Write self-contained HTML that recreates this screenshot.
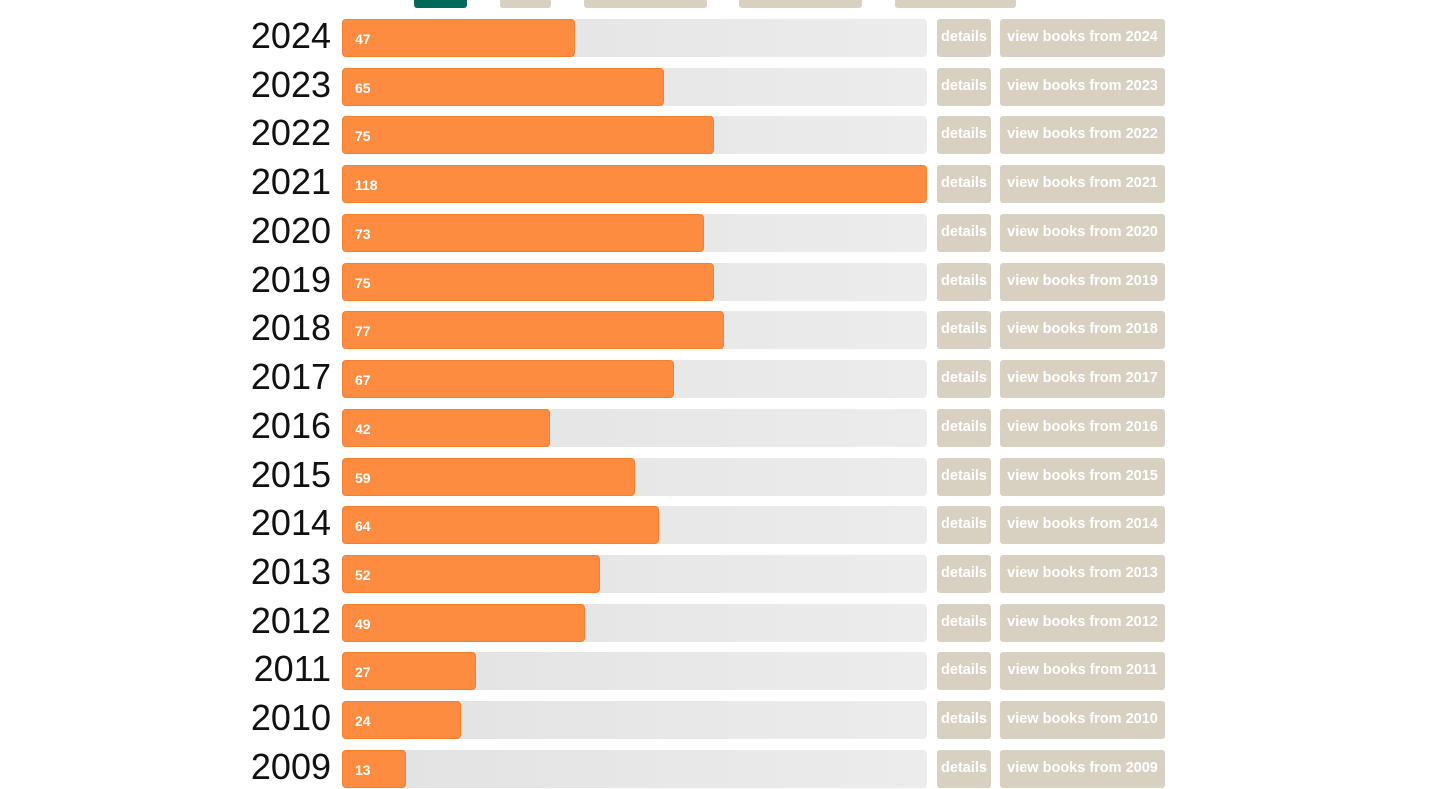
<!DOCTYPE html>
<html><head><meta charset="utf-8">
<style>
body{margin:0;width:1456px;height:789px;background:#fff;position:relative;overflow:hidden;font-family:"Liberation Sans",sans-serif}
.tab{position:absolute;top:-4px;height:12px;border-radius:0 0 3px 3px;background:#d8d1c2}
.year{position:absolute;left:200px;width:131px;text-align:right;font-size:36px;color:#111;line-height:38px}
.track{position:absolute;left:342px;width:585px;height:38px;border-radius:4px;background:linear-gradient(90deg,#e2e2e2,#ececec)}
.bar{position:absolute;left:342px;height:38px;border-radius:4px;background:#fd8b40;box-sizing:border-box;border:1px solid #f47f2f}
.val{position:absolute;left:12px;top:11px;color:#fff;font-weight:bold;font-size:14px}
.btn{position:absolute;height:38px;border-radius:3px;background:#d8d1c2;color:#fff;font-weight:bold;font-size:14.5px;line-height:36px;text-align:center}
</style></head><body>
<div class="tab" style="left:414px;width:53px;background:#00695c"></div>
<div class="tab" style="left:500px;width:51px"></div>
<div class="tab" style="left:584px;width:123px"></div>
<div class="tab" style="left:739px;width:123px"></div>
<div class="tab" style="left:895px;width:121px"></div>
<div id="chart"></div>
<script>
const years=[2024,2023,2022,2021,2020,2019,2018,2017,2016,2015,2014,2013,2012,2011,2010,2009];
const counts=[47,65,75,118,73,75,77,67,42,59,64,52,49,27,24,13];
const maxCount=118;
const c=document.getElementById('chart');
const x=v=>v/maxCount*585;
const y=i=>19+i*48.73;
years.forEach((yr,i)=>{
  const top=y(i);
  const l=document.createElement('div');l.className='year';l.style.top=(top-2)+'px';l.textContent=yr;
  
  
  c.appendChild(l);
  const t=document.createElement('div');t.className='track';t.style.top=top+'px';
  
  
  c.appendChild(t);
  const b=document.createElement('div');b.className='bar';b.style.top=top+'px';b.style.width=x(counts[i])+'px';
  
  
  const v=document.createElement('span');v.className='val';v.textContent=counts[i];
  
  
  b.appendChild(v);c.appendChild(b);
  const d=document.createElement('div');d.className='btn';d.style.top=top+'px';d.style.left='937px';d.style.width='54px';d.textContent='details';
  
  
  c.appendChild(d);
  const w=document.createElement('div');w.className='btn';w.style.top=top+'px';w.style.left='1000px';w.style.width='165px';w.textContent='view books from '+yr;
  
  
  c.appendChild(w);
});
</script>
</body></html>
